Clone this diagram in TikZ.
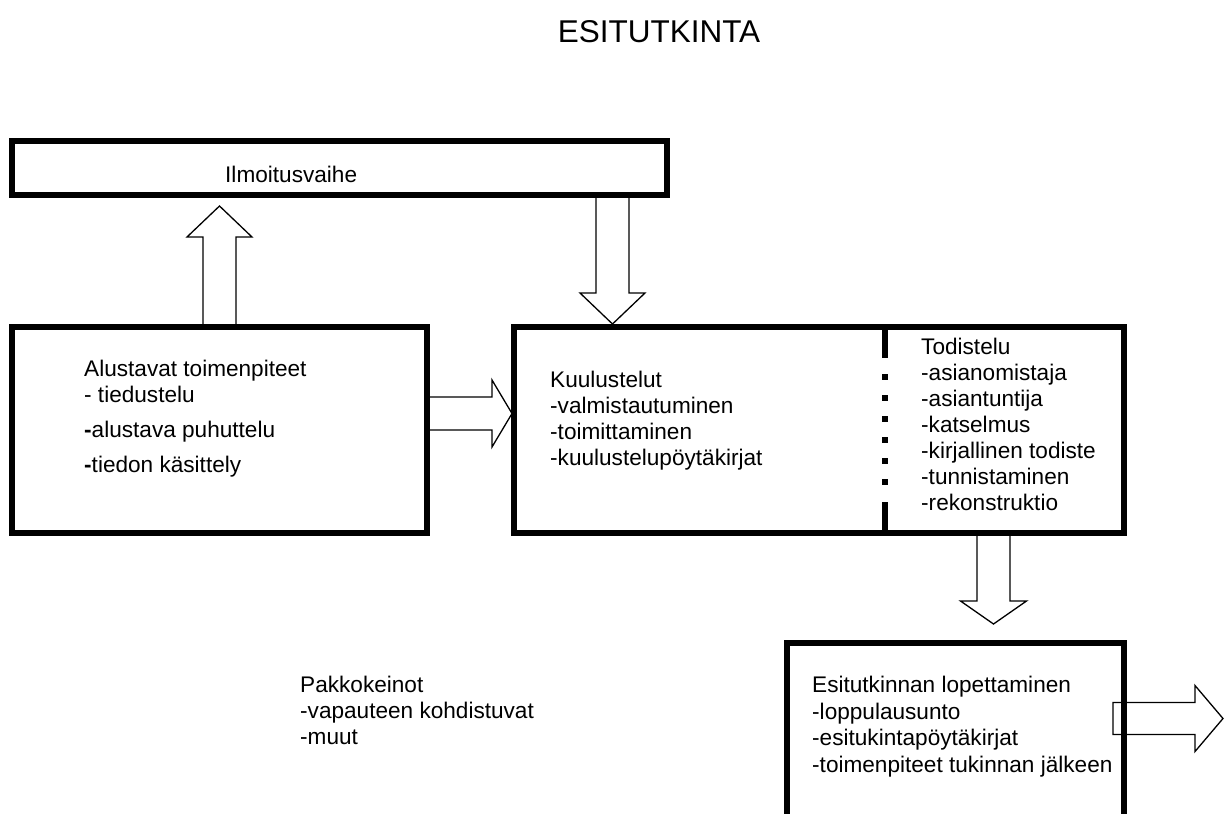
\documentclass[tikz,border=0pt]{standalone}
\usepackage{fontspec}
\setmainfont{Liberation Sans}
\usetikzlibrary{calc,positioning}
\tikzset{%
	stage/.style    = {draw, rectangle, line width=6pt, inner sep=0pt, outer sep=0pt},
	boxtext/.style  = {align=left, anchor=north west, inner sep=0pt, font=\fontsize{22.6}{26}\selectfont},
	fatline/.style  = {draw, line width=1.3pt, miter limit=10}, % hollow arrow
	divider/.style  = {line width=6pt, dash pattern=on 31pt off 16pt on 6pt off 15pt on 6pt off 15pt on 6pt off 15pt on 6pt off 15pt on 6pt off 15pt on 6pt off 17pt on 31pt},
}
% hollow block arrow: from, to, shaft half width, head half width, head length
\newcommand{\fatarrow}[5]{%
	\path ($(#2)!#5!(#1)$) coordinate (neck);
	\draw [fatline] ($(#1)!#3!90:(#2)$) -- ($(neck)!#3!90:(#2)$) -- ($(neck)!#4!90:(#2)$) -- (#2)
		-- ($(neck)!#4!-90:(#2)$) -- ($(neck)!#3!-90:(#2)$) -- ($(#1)!#3!-90:(#2)$) -- cycle;
}

\begin{document}
\begin{tikzpicture}[x=1pt,y=-1pt,node distance=87pt]
	\useasboundingbox (0,0) rectangle (1232,814);
	
	\node [anchor=base,font=\fontsize{31.5}{36}\selectfont] (otsikko) at (659,42) {ESITUTKINTA};
	
	\node [stage, minimum width=415pt, minimum height=206pt] (alu) at (219.5,430) {};
	\node [stage, minimum width=610pt, minimum height=206pt] (kuu) [right=of alu] {};
	\node [stage, minimum width=655pt, minimum height=54pt] (ilm) [above right=132pt and 0pt of alu.north west] {};
	\node [stage, minimum width=337pt, minimum height=190pt] (loppu) [below left=110pt and 0pt of kuu.south east] {};
	
	\draw [divider] ($(kuu.north west)+(371,0)$) -- ($(kuu.south west)+(371,0)$);
	
	\node [boxtext] (ilmtext) at ($(ilm.north west)+(213,25)$) {Ilmoitusvaihe};
	\node [boxtext] (alutext) at ($(alu.north west)+(72,33)$) {Alustavat toimenpiteet\\- tiedustelu\\[9pt]\textbf{-}alustava puhuttelu\\[9pt]\textbf{-}tiedon käsittely};
	\node [boxtext] (kuutext) at ($(kuu.north west)+(36,44)$) {Kuulustelut\\-valmistautuminen\\-toimittaminen\\-kuulustelupöytäkirjat};
	\node [boxtext] (todtext) at ($(kuu.north west)+(407,11)$) {Todistelu\\-asianomistaja\\-asiantuntija\\-katselmus\\-kirjallinen todiste\\-tunnistaminen\\-rekonstruktio};
	\node [boxtext,font=\fontsize{22.6}{26.5}\selectfont] (lopputext) at ($(loppu.north west)+(25,33)$) {Esitutkinnan lopettaminen\\-loppulausunto\\-esitukintapöytäkirjat\\-toimenpiteet tukinnan jälkeen};
	\node [boxtext] (pakko) at (300,676) {Pakkokeinot\\-vapauteen kohdistuvat\\-muut};
	
	\coordinate (ulos) at ($(loppu.north east)+(99,75.5)$);
	
	\fatarrow{$(alu.north west)+(207.5,0)$}{$(ilm.south west)+(207.5,11)$}{16.5pt}{32.5pt}{31pt}
	\fatarrow{$(ilm.south west)+(600.5,0)$}{$(kuu.north west)+(98.5,-3)$}{16.5pt}{32.5pt}{31pt}
	\fatarrow{$(alu.north east)+(0,86.5)$}{$(kuu.north west)+(-2,86.5)$}{16.5pt}{33.5pt}{20pt}
	\fatarrow{$(kuu.south west)+(479.5,0)$}{$(loppu.north west)+(206.5,-19)$}{16.5pt}{33pt}{23pt}
	\fatarrow{$(loppu.north east)+(-11,75.5)$}{ulos}{16pt}{33pt}{28pt}
	
\end{tikzpicture}
\end{document}
